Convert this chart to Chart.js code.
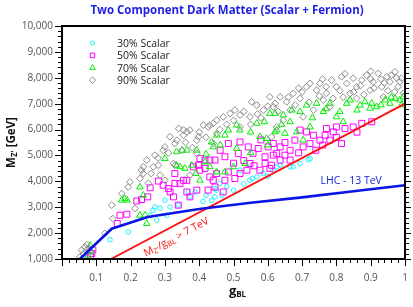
<!DOCTYPE html>
<html>
<head>
<meta charset="utf-8">
<script src="https://cdn.jsdelivr.net/npm/chart.js@4/dist/chart.umd.min.js"></script>
<style>
  html, body { margin: 0; padding: 0; background: #fff; }
  #wrap { width: 413px; height: 307px; }
</style>
</head>
<body>
<div id="wrap"><canvas id="c" width="413" height="307"></canvas></div>
<script>
// series values: [g_BL, M_Z' (GeV)]
var scalar30 = [
  [0.14,1750],[0.193,2045],[0.257,2690],[0.265,2880],[0.271,3010],[0.276,2500],[0.286,2960],
  [0.3,3270],[0.305,2690],[0.315,3010],[0.339,3080],[0.368,3590],[0.373,3400],[0.388,3590],
  [0.411,3230],[0.42,3460],[0.436,3270],[0.446,3400],[0.446,3720],[0.45,3660],[0.46,3920],
  [0.466,3460],[0.48,3800],[0.5,3660],[0.519,4430],[0.53,3900],[0.548,4040],[0.555,4110],
  [0.568,4170],[0.587,4310],[0.6,4200],[0.615,4430],[0.626,4560],[0.636,4620],[0.665,4560],
  [0.674,4560],[0.694,4690],[0.718,4840],[0.723,4880]
];
var scalar50 = [
  [0.083,1080],[0.087,1210],[0.09,1350],[0.161,2370],[0.169,2690],[0.189,2730],[0.218,3240],
  [0.232,3300],[0.25,3400],[0.257,3750],[0.281,4010],[0.295,3850],[0.31,3720],[0.315,3590],
  [0.325,3400],[0.329,3920],[0.329,4300],[0.339,3080],[0.344,3920],[0.354,4040],[0.364,4040],
  [0.364,3590],[0.373,3400],[0.383,4560],[0.393,3660],[0.398,4620],[0.402,4430],[0.402,4880],
  [0.417,4500],[0.417,4820],[0.426,3660],[0.431,4820],[0.431,4170],[0.441,4040],[0.446,4820],
  [0.446,3780],[0.451,4300],[0.461,5200],[0.475,4950],[0.475,4040],[0.47,3590],[0.485,5460],
  [0.485,4360],[0.5,4700],[0.504,4110],[0.514,5080],[0.519,5520],[0.519,4300],[0.53,4800],
  [0.539,4430],[0.543,5330],[0.548,4690],[0.557,5080],[0.56,4600],[0.572,5270],[0.577,4430],
  [0.58,5600],[0.592,4950],[0.592,4690],[0.601,5330],[0.606,4500],[0.611,4620],[0.616,5460],
  [0.616,5010],[0.626,5080],[0.636,5330],[0.636,4820],[0.65,5010],[0.65,5500],[0.665,5200],
  [0.665,4820],[0.679,5590],[0.69,5100],[0.694,5980],[0.703,5330],[0.713,5910],[0.723,5460],
  [0.733,5780],[0.74,5200],[0.752,5590],[0.76,5400],[0.767,5780],[0.771,6040],[0.781,5590],
  [0.791,5910],[0.8,6100],[0.8,5700],[0.815,5460],[0.825,6040],[0.849,6100],[0.86,5900],
  [0.874,6240],[0.903,6300]
];
var scalar70 = [
  [0.077,1140],[0.082,1530],[0.085,1300],[0.174,3270],[0.183,3330],[0.19,3270],[0.227,3780],
  [0.237,3460],[0.227,2690],[0.242,2690],[0.247,2370],[0.3,4880],[0.334,5140],[0.35,5200],
  [0.364,5200],[0.334,4620],[0.344,4560],[0.358,4500],[0.378,4620],[0.39,4300],[0.402,4040],
  [0.393,5200],[0.417,4750],[0.42,5050],[0.431,4560],[0.436,5520],[0.441,5330],[0.451,5780],
  [0.451,4360],[0.461,5400],[0.475,5780],[0.475,4360],[0.485,5980],[0.5,4560],[0.509,6170],
  [0.509,5270],[0.519,5980],[0.534,4690],[0.55,5900],[0.55,5100],[0.568,6240],[0.577,5720],
  [0.59,6300],[0.597,5650],[0.6,5400],[0.606,6620],[0.621,5910],[0.621,6620],[0.626,5980],
  [0.64,6200],[0.645,6560],[0.65,5850],[0.665,6300],[0.67,6750],[0.684,5910],[0.694,6690],
  [0.703,5590],[0.713,6940],[0.723,6100],[0.73,6450],[0.742,7010],[0.762,6690],[0.77,6800],
  [0.781,7010],[0.8,6490],[0.81,6690],[0.82,6300],[0.83,7010],[0.84,7140],[0.86,6750],
  [0.869,6940],[0.883,7070],[0.898,6820],[0.903,7010],[0.917,6880],[0.93,6950],[0.942,7140],
  [0.956,7010],[0.96,7250],[0.971,7200],[0.985,7140],[0.99,6950],[0.995,7260]
];
var scalar90 = [
  [0.052,1080],[0.057,1340],[0.062,1200],[0.067,1460],[0.072,1550],[0.076,1400],[0.08,1300],
  [0.125,1990],[0.148,2560],[0.145,3080],[0.174,3530],[0.193,3780],[0.198,3980],[0.213,2950],
  [0.227,4110],[0.232,4430],[0.237,4560],[0.237,4300],[0.247,4820],[0.252,3920],[0.26,4300],
  [0.266,4560],[0.271,5010],[0.28,4900],[0.281,4620],[0.286,4240],[0.295,5200],[0.3,4040],
  [0.3,5330],[0.31,5100],[0.315,5720],[0.325,4690],[0.329,5460],[0.329,4620],[0.335,5590],
  [0.34,6040],[0.35,5200],[0.354,5980],[0.354,5780],[0.36,5500],[0.364,5910],[0.373,5980],
  [0.373,4240],[0.38,5300],[0.393,5590],[0.393,5080],[0.398,5720],[0.4,5900],[0.412,6170],
  [0.42,5700],[0.426,6100],[0.431,6170],[0.441,6240],[0.441,5460],[0.451,5850],[0.451,6360],
  [0.46,6000],[0.47,6490],[0.48,6200],[0.49,6620],[0.5,6350],[0.504,6750],[0.519,6560],
  [0.519,6100],[0.53,6700],[0.548,6490],[0.55,6200],[0.553,7070],[0.568,6940],[0.57,6600],
  [0.58,6450],[0.587,6750],[0.6,6900],[0.606,7260],[0.611,5720],[0.616,6880],[0.621,7010],
  [0.626,6100],[0.63,6700],[0.636,7260],[0.645,6360],[0.655,7070],[0.66,7250],[0.665,6750],
  [0.674,7400],[0.68,6950],[0.694,7200],[0.7,7450],[0.703,6490],[0.713,7650],[0.72,7050],
  [0.723,7780],[0.733,6750],[0.742,7520],[0.75,7300],[0.752,7780],[0.762,7140],[0.77,7650],
  [0.771,7400],[0.781,6880],[0.786,7910],[0.79,7200],[0.8,7650],[0.81,7500],[0.815,8040],
  [0.82,7250],[0.83,7780],[0.84,7400],[0.849,7980],[0.85,7450],[0.859,7650],[0.859,7200],
  [0.87,7700],[0.874,7910],[0.88,7350],[0.888,8100],[0.898,7520],[0.9,7950],[0.907,7840],
  [0.91,7600],[0.922,8170],[0.93,7950],[0.932,7650],[0.937,7260],[0.947,8040],[0.95,7500],
  [0.956,7840],[0.96,8100],[0.97,7450],[0.971,8230],[0.98,7650],[0.985,7850],[0.99,7980],
  [0.995,7400],[0.69,7600],[0.76,7950],[0.825,8150],[0.9,8250],[0.94,7800],[0.975,8000]
];
// LHC 13 TeV bound and M_Z'/g_BL = 7 TeV line
var lhcX = [0.052, 0.145, 0.25, 0.4, 0.55, 0.7, 0.85, 1.0];
var lhcY = [1000, 2170, 2620, 2930, 3170, 3380, 3620, 3850];
var ratioX = [0.1429, 1.0];
var ratioY = [1000, 7000];

var seriesNames = ['30% Scalar', '50% Scalar', '70% Scalar', '90% Scalar'];
var seriesColors = ['#1ef0ff', '#ff00ff', '#00ee00', '#8c8c8c'];
var seriesStyles = ['circle', 'rect', 'triangle', 'rectRot'];
var seriesRadius = [2.3, 4.2, 3.8, 3.4];

var xTicks = [0.1, 0.2, 0.3, 0.4, 0.5, 0.6, 0.7, 0.8, 0.9, 1];
var yTicks = [1000, 2000, 3000, 4000, 5000, 6000, 7000, 8000, 9000, 10000];

var FONT = "'Open Sans', 'DejaVu Sans', sans-serif";
var TITLE = 'Two Component Dark Matter (Scalar + Fermion)';

function toPoints(pairs) {
  return pairs.map(function(p) { return {x: p[0], y: p[1]}; });
}
function toLine(xs, ys) {
  return xs.map(function(x, i) { return {x: x, y: ys[i]}; });
}

var scatterSets = [scalar30, scalar50, scalar70, scalar90].map(function(pts, i) {
  return {
    label: seriesNames[i],
    data: toPoints(pts),
    pointStyle: seriesStyles[i],
    pointRadius: seriesRadius[i],
    pointHoverRadius: seriesRadius[i],
    borderColor: seriesColors[i],
    backgroundColor: 'rgba(0,0,0,0)',
    borderWidth: 1,
    showLine: false,
    order: 5 - i
  };
});

var lineSets = [
  {label: 'LHC', data: toLine(lhcX, lhcY), showLine: true, borderColor: '#0a14e6',
   borderWidth: 2.6, pointRadius: 0, order: 0},
  {label: 'ratio', data: toLine(ratioX, ratioY), showLine: true, borderColor: '#ff1010',
   borderWidth: 1.8, pointRadius: 0, order: 0}
];

function shape(ctx, style, x, y, r) {
  ctx.beginPath();
  if (style === 'circle') {
    ctx.arc(x, y, r, 0, Math.PI * 2);
  } else if (style === 'rect') {
    var s = r * Math.SQRT1_2;
    ctx.rect(x - s, y - s, 2 * s, 2 * s);
  } else if (style === 'triangle') {
    ctx.moveTo(x, y - r);
    ctx.lineTo(x + r * 0.866, y + r * 0.5);
    ctx.lineTo(x - r * 0.866, y + r * 0.5);
    ctx.closePath();
  } else {
    ctx.moveTo(x, y - r); ctx.lineTo(x + r, y); ctx.lineTo(x, y + r); ctx.lineTo(x - r, y);
    ctx.closePath();
  }
  ctx.stroke();
}

// draws text pieces, subscripts lowered and smaller
function richText(ctx, parts, x, y) {
  parts.forEach(function(p) {
    ctx.font = p.font;
    ctx.fillText(p.t, x, y + (p.dy || 0));
    x += ctx.measureText(p.t).width;
  });
}
function richWidth(ctx, parts) {
  var w = 0;
  parts.forEach(function(p) { ctx.font = p.font; w += ctx.measureText(p.t).width; });
  return w;
}

var decor = {
  id: 'decor',
  afterDatasetsDraw: function(chart) {
    var ctx = chart.ctx, a = chart.chartArea;
    var xs = chart.scales.x, ys = chart.scales.y;
    ctx.save();
    ctx.strokeStyle = '#000';
    ctx.lineWidth = 1;
    // minor / major ticks
    var v, px, big;
    for (v = 0; v <= 50; v++) {
      px = Math.round(xs.getPixelForValue(v * 0.02)) + 0.5;
      big = v % 5 === 0;
      ctx.beginPath(); ctx.moveTo(px, a.bottom); ctx.lineTo(px, a.bottom + (big ? 7 : 4)); ctx.stroke();
    }
    for (v = 1000; v <= 10000; v += 200) {
      px = Math.round(ys.getPixelForValue(v)) + 0.5;
      big = v % 1000 === 0;
      ctx.beginPath(); ctx.moveTo(a.left - (big ? 7 : 4), px); ctx.lineTo(a.left, px); ctx.stroke();
      ctx.beginPath(); ctx.moveTo(a.right, px); ctx.lineTo(a.right + (big ? 6 : 4), px); ctx.stroke();
    }
    ctx.lineWidth = 2;
    ctx.strokeRect(a.left, a.top, a.right - a.left, a.bottom - a.top);

    // title
    ctx.fillStyle = '#1e1ee6';
    ctx.font = 'bold 11.5px ' + FONT;
    ctx.textAlign = 'center';
    ctx.textBaseline = 'middle';
    ctx.fillText(TITLE, 227, 11);

    // legend
    ctx.lineWidth = 1;
    ctx.textAlign = 'left';
    seriesNames.forEach(function(name, i) {
      var ly = 43 + i * 12.4;
      ctx.strokeStyle = seriesColors[i];
      shape(ctx, seriesStyles[i], 92.5, ly, i === 0 ? 2 : 3.2);
      ctx.fillStyle = '#222';
      ctx.font = '10.5px ' + FONT;
      ctx.fillText(name, 117, ly + 1);
    });

    // LHC label
    ctx.fillStyle = '#1428d8';
    ctx.font = '10.5px ' + FONT;
    ctx.textAlign = 'center';
    ctx.fillText('LHC - 13 TeV', xs.getPixelForValue(0.843), ys.getPixelForValue(4000));

    // ratio label along the red line
    var p1x = xs.getPixelForValue(ratioX[0]), p1y = ys.getPixelForValue(ratioY[0]);
    var p2x = xs.getPixelForValue(ratioX[1]), p2y = ys.getPixelForValue(ratioY[1]);
    var ang = Math.atan2(p2y - p1y, p2x - p1x);
    ctx.translate(xs.getPixelForValue(0.245), ys.getPixelForValue(1090));
    ctx.rotate(ang);
    ctx.fillStyle = '#ff1010';
    ctx.textAlign = 'left';
    ctx.textBaseline = 'alphabetic';
    var big1 = '10.5px ' + FONT, sub1 = '7.5px ' + FONT;
    richText(ctx, [
      {t: 'M', font: big1}, {t: "Z'", font: sub1, dy: 2}, {t: '/g', font: big1},
      {t: 'BL', font: sub1, dy: 2}, {t: ' > 7 TeV', font: big1}
    ], 0, 0);
    ctx.restore();

    // axis titles
    ctx.save();
    ctx.fillStyle = '#111';
    ctx.textBaseline = 'alphabetic';
    var bold = 'bold 11.5px ' + FONT, bsub = 'bold 8px ' + FONT;
    var yParts = [{t: 'M', font: bold}, {t: "Z'", font: bsub, dy: 2.5}, {t: ' [GeV]', font: bold}];
    var yw = richWidth(ctx, yParts);
    ctx.translate(14.5, (a.top + a.bottom) / 2);
    ctx.rotate(-Math.PI / 2);
    richText(ctx, yParts, -yw / 2, 0);
    ctx.restore();

    ctx.save();
    ctx.fillStyle = '#111';
    ctx.textBaseline = 'alphabetic';
    var xParts = [{t: 'g', font: 'bold 13px ' + FONT}, {t: 'BL', font: 'bold 8px ' + FONT, dy: 2}];
    var xw = richWidth(ctx, xParts);
    richText(ctx, xParts, 237.5 - xw / 2, 295);
    ctx.restore();
  }
};

new Chart(document.getElementById('c'), {
  type: 'scatter',
  data: {datasets: scatterSets.concat(lineSets)},
  options: {
    responsive: false,
    animation: false,
    layout: {padding: {left: 0, right: 8, top: 26, bottom: 0}},
    plugins: {
      legend: {display: false},
      tooltip: {enabled: false},
      title: {display: false}
    },
    scales: {
      x: {
        type: 'linear', min: 0, max: 1,
        afterFit: function(s) { s.height = 48; s.paddingLeft = 0; s.paddingRight = 0; },
        afterBuildTicks: function(s) { s.ticks = xTicks.map(function(v) { return {value: v}; }); },
        grid: {display: false, drawTicks: false},
        border: {display: false},
        ticks: {
          padding: 13, color: '#555', font: {family: FONT, size: 10},
          callback: function(v) { return String(Math.round(v * 10) / 10); }
        }
      },
      y: {
        type: 'linear', min: 1000, max: 10000,
        afterFit: function(s) { s.width = 62; s.paddingTop = 0; s.paddingBottom = 0; },
        afterBuildTicks: function(s) { s.ticks = yTicks.map(function(v) { return {value: v}; }); },
        grid: {display: false, drawTicks: false},
        border: {display: false},
        ticks: {
          padding: 9, color: '#555', font: {family: FONT, size: 10},
          callback: function(v) { return v.toLocaleString('en-US'); }
        }
      }
    }
  },
  plugins: [decor]
});
</script>
</body>
</html>
